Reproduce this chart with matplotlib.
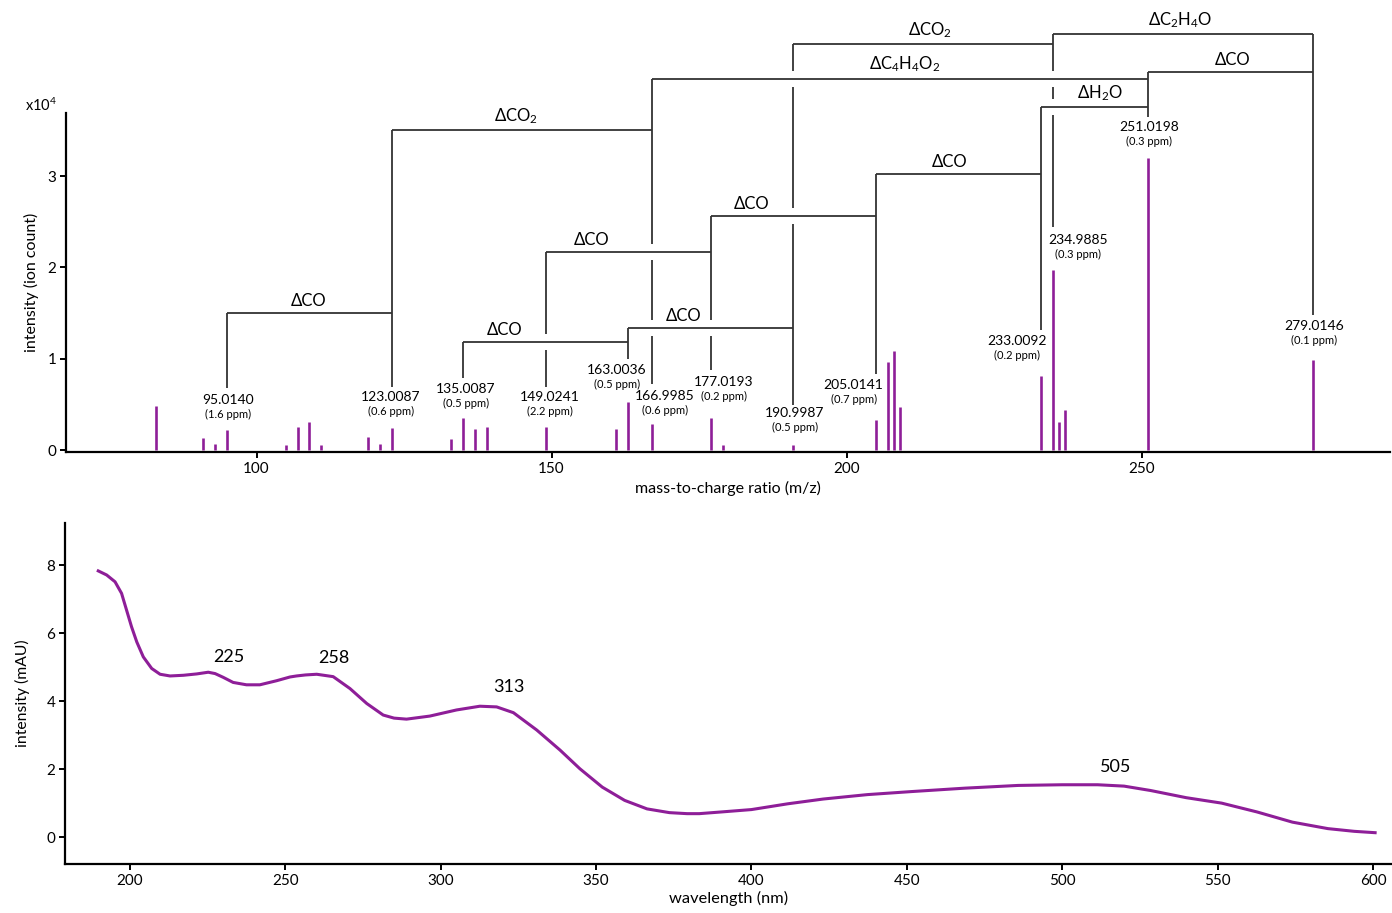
import matplotlib
matplotlib.use('Agg')
from matplotlib import pyplot as plt

plt.rcParams['font.family'] = ['Lato', 'DejaVu Sans']
plt.rcParams['mathtext.fontset'] = 'custom'
plt.rcParams['mathtext.rm'] = 'Lato'
plt.rcParams['mathtext.it'] = 'Lato:italic'

purple = '#8e1e98'
dark = '#333333'

# ---- MS spectrum: m/z and intensity (x10^4)
peak_mz = [82.95, 90.95, 92.95, 95.0140, 104.95, 106.95, 108.95, 110.95, 118.95, 120.95, 123.0087,
           132.98, 135.0087, 137.0, 139.0, 149.0241, 161.0, 163.0036, 166.9985, 177.0193, 179.05,
           190.9987, 205.0141, 207.05, 208.05, 209.0, 233.0092, 234.9885, 236.0, 237.05,
           251.0198, 279.0146]
peak_int = [0.48, 0.13, 0.07, 0.22, 0.06, 0.25, 0.31, 0.06, 0.14, 0.07, 0.24,
            0.12, 0.35, 0.23, 0.25, 0.25, 0.23, 0.53, 0.28, 0.35, 0.06,
            0.06, 0.33, 0.96, 1.08, 0.47, 0.81, 1.97, 0.31, 0.44,
            3.20, 0.99]

# annotated ions
ion_mz = [95.0140, 123.0087, 135.0087, 149.0241, 163.0036, 166.9985, 177.0193,
          190.9987, 205.0141, 233.0092, 234.9885, 251.0198, 279.0146]
ion_ppm = [1.6, 0.6, 0.5, 2.2, 0.5, 0.6, 0.2, 0.5, 0.7, 0.2, 0.3, 0.3, 0.1]
ion_label_x = [95.14, 122.76, 135.47, 149.71, 161.07, 169.2, 179.2,
               191.24, 201.2, 228.86, 239.2, 251.25, 279.2]
ion_label_y = [0.548, 0.580, 0.668, 0.580, 0.876, 0.591, 0.745,
               0.405, 0.712, 1.194, 2.30, 3.538, 1.358]
stem_bottom = [0.679, 0.690, 0.789, 0.690, 0.997, 0.723, 0.876,
               0.493, 0.832, 1.314, 2.442, 3.647, 1.479]

# neutral losses between ions
loss_from = [95.0140, 123.0087, 135.0087, 149.0241, 163.0036, 177.0193, 205.0141,
             233.0092, 251.0198, 166.9985, 190.9987, 234.9885]
loss_to = [123.0087, 166.9985, 163.0036, 177.0193, 190.9987, 205.0141, 233.0092,
           251.0198, 279.0146, 251.0198, 234.9885, 279.0146]
loss_name = ['CO', 'CO$_2$', 'CO', 'CO', 'CO', 'CO', 'CO',
             'H$_2$O', 'CO', 'C$_4$H$_4$O$_2$', 'CO$_2$', 'C$_2$H$_4$O']
loss_level = [1.500, 3.505, 1.183, 2.169, 1.336, 2.563, 3.023,
              3.754, 4.140, 4.067, 4.447, 4.556]
loss_label_x = [108.9, 143.9, 142.1, 156.8, 172.4, 183.9, 217.5,
                242.9, 265.5, 209.9, 214.1, 256.5]

# ---- UV-vis spectrum
wl = [189.8, 192.5, 195.2, 197.3, 198.9, 200.5, 202.2, 204.3, 207.0, 209.7, 212.9, 217.2,
      221.5, 225.2, 227.4, 230.0, 233.2, 237.5, 241.8, 247.2, 251.5, 253.6, 256.5, 260.1,
      265.4, 270.8, 276.2, 281.5, 285.0, 289.0, 296.5, 305.1, 312.6, 318.0, 323.4, 330.9,
      338.4, 344.8, 352.0, 359.2, 366.4, 373.6, 379.3, 383.2, 390.3, 400.0, 411.7, 423.1,
      437.3, 451.6, 468.7, 485.8, 500.0, 511.4, 519.9, 528.5, 539.9, 551.3, 562.7, 574.1,
      585.5, 594.0, 600.7]
absorb = [7.83, 7.71, 7.51, 7.17, 6.68, 6.19, 5.74, 5.30, 4.96, 4.79, 4.74, 4.76,
          4.80, 4.85, 4.81, 4.70, 4.55, 4.48, 4.48, 4.60, 4.71, 4.74, 4.77, 4.79,
          4.72, 4.37, 3.93, 3.59, 3.50, 3.47, 3.56, 3.74, 3.85, 3.83, 3.66, 3.15,
          2.56, 2.01, 1.47, 1.08, 0.83, 0.72, 0.69, 0.69, 0.74, 0.81, 0.98, 1.12,
          1.25, 1.34, 1.44, 1.52, 1.54, 1.54, 1.50, 1.37, 1.16, 1.00, 0.74, 0.44,
          0.25, 0.17, 0.13]
uv_peaks = ['225', '258', '313', '505']
uv_peak_x = [231.9, 265.6, 322.0, 517.3]
uv_peak_y = [5.29, 5.26, 4.41, 2.06]

fig = plt.figure(figsize=(13.92, 9.13), dpi=100)
ax1 = fig.add_axes([0.0474, 0.5049, 0.9511, 0.3713])
ax2 = fig.add_axes([0.0467, 0.0537, 0.953, 0.3735])

for ax in (ax1, ax2):
    for s in ('top', 'right'):
        ax.spines[s].set_visible(False)
    for s in ('left', 'bottom'):
        ax.spines[s].set_linewidth(1.6)
    ax.tick_params(width=1.4, length=4, labelsize=11, pad=3)

# top: mass spectrum
ax1.vlines(peak_mz, 0, peak_int, color=purple, lw=1.9)
ax1.set_xlim(67.7, 292.1)
ax1.set_ylim(-0.022, 3.69)
ax1.set_xticks([100, 150, 200, 250])
ax1.set_yticks([0, 1, 2, 3])
ax1.set_xlabel('mass-to-charge ratio (m/z)', fontsize=11.5, labelpad=4)
ax1.set_ylabel('intensity (ion count)', fontsize=11.5, labelpad=6)
fig.text(0.018, 0.878, 'x10$^4$', fontsize=10.5)

gap = 0.088
lk = dict(color=dark, lw=1.3, clip_on=False, solid_capstyle='butt')
for a, b, lv in zip(loss_from, loss_to, loss_level):
    ax1.plot([a, b], [lv, lv], **lk)
for name, lx, lv in zip(loss_name, loss_label_x, loss_level):
    ax1.annotate('Δ' + name, (lx, lv), xytext=(0, 3), textcoords='offset points',
                 ha='center', va='bottom', fontsize=12, annotation_clip=False)

for m, bottom in zip(ion_mz, stem_bottom):
    top = max(lv for a, b, lv in zip(loss_from, loss_to, loss_level) if m in (a, b))
    cuts = sorted([lv for a, b, lv in zip(loss_from, loss_to, loss_level)
                   if a < m < b and bottom < lv < top], reverse=True)
    y0 = top
    for c in cuts:
        ax1.plot([m, m], [y0, c + gap], **lk)
        y0 = c - gap
    ax1.plot([m, m], [y0, bottom], **lk)

for m, ppm, lx, ly in zip(ion_mz, ion_ppm, ion_label_x, ion_label_y):
    ax1.text(lx, ly, '%.4f' % m, ha='center', va='center', fontsize=10)
    ax1.annotate('(%.1f ppm)' % ppm, (lx, ly), xytext=(0, -10.5), textcoords='offset points',
                 ha='center', va='center', fontsize=8)

# bottom: UV spectrum
ax2.plot(wl, absorb, color=purple, lw=2.2, solid_joinstyle='round')
ax2.set_xlim(179.1, 606)
ax2.set_ylim(-0.79, 9.24)
ax2.set_xticks([200, 250, 300, 350, 400, 450, 500, 550, 600])
ax2.set_yticks([0, 2, 4, 6, 8])
ax2.set_xlabel('wavelength (nm)', fontsize=11.8, labelpad=2)
ax2.set_ylabel('intensity (mAU)', fontsize=11.3, labelpad=12)
for t, x, y in zip(uv_peaks, uv_peak_x, uv_peak_y):
    ax2.text(x, y, t, ha='center', va='center', fontsize=13)

fig.savefig('out.png', dpi=100)
